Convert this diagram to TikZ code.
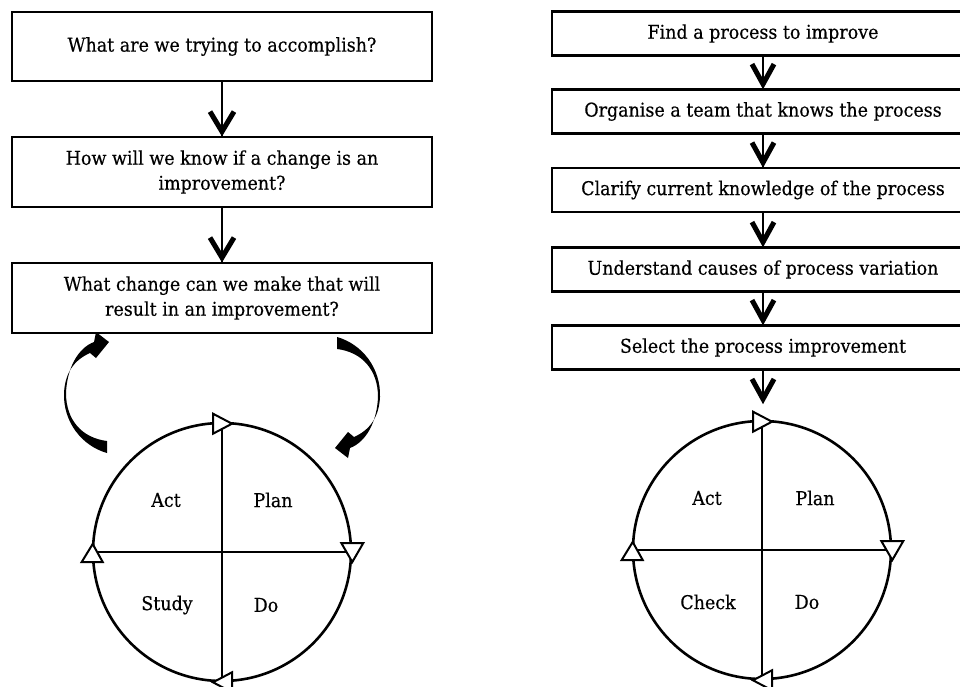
\documentclass[tikz,border=0pt]{standalone}
\usepackage{fontspec}
\setmainfont{DejaVu Serif}[FakeStretch=0.92,FakeBold=0.4]
\usetikzlibrary{arrows.meta,shapes.geometric}
\begin{document}
\begin{tikzpicture}[x=1pt,y=-1pt,
  txt/.style={font=\fontsize{19}{25}\selectfont, inner sep=0pt},
  lbox/.style={draw, line width=2.8pt, minimum width=420pt, minimum height=69pt, align=center, inner sep=0pt, font=\fontsize{19}{25}\selectfont},
  rbox/.style={draw, line width=2.8pt, minimum width=422pt, minimum height=44pt, align=center, inner sep=0pt, font=\fontsize{19}{25}\selectfont},
  conn/.style={line width=2.2pt},
  chev/.style={line width=5pt, line join=miter, line cap=butt},
  wheel/.style={draw, circle, line width=2.6pt, minimum size=258pt, inner sep=0pt},
  cross/.style={line width=2pt},
  tri/.style={draw, fill=white, line width=2pt, line join=miter},
  curvarrow/.style={fill=black}
]
\useasboundingbox (0,0) rectangle (960,687);
\clip (0,0) rectangle (960,687);
\fill[white] (0,0) rectangle (960,687);

% ---------- left column ----------
\node[lbox] (L1) at (222,46.5) {What are we trying to accomplish?};
\node[lbox, minimum height=70pt] (L2) at (222,172) {How will we know if a change is an\\improvement?};
\node[lbox, minimum height=70pt] (L3) at (222,298) {What change can we make that will\\result in an improvement?};
\draw[conn] (L1.south) -- (L2.north);
\draw[chev] (L2.north) ++(-12,-24) -- ++(12,20) -- ++(12,-20);
\draw[conn] (L2.south) -- (L3.north);
\draw[chev] (L3.north) ++(-12,-24) -- ++(12,20) -- ++(12,-20);

% curved arrows
\fill[curvarrow] (107,453) .. controls (82,446) and (63,422) .. (64,393)
  .. controls (65,373) and (74,360) .. (90,353) -- (96,358) -- (109,342) -- (96,332) -- (94,342)
  .. controls (78,348) and (67,368) .. (66,393)
  .. controls (66,420) and (82,438) .. (107,441) -- cycle;
\begin{scope}[rotate around={180:(222,395)}]
\fill[curvarrow] (107,453) .. controls (82,446) and (63,422) .. (64,393)
  .. controls (65,373) and (74,360) .. (90,353) -- (96,358) -- (109,342) -- (96,332) -- (94,342)
  .. controls (78,348) and (67,368) .. (66,393)
  .. controls (66,420) and (82,438) .. (107,441) -- cycle;
\end{scope}

% left wheel
\node[wheel] (C1) at (222,552) {};
\draw[cross] (C1.north) -- (C1.south);
\draw[cross] (C1.west) -- (C1.east);
\draw[tri] (C1.north) ++(-9,-8) -- ++(0,20) -- ++(19,-10) -- cycle;
\draw[tri] (C1.east) ++(-11,-9) -- ++(22,0) -- ++(-11,19) -- cycle;
\draw[tri] (C1.south) ++(10,-10) -- ++(0,20) -- ++(-19,-10) -- cycle;
\draw[tri] (C1.west) ++(-10,10) -- ++(21,0) -- ++(-10,-18) -- cycle;
\node[txt] (A1) at (166,500) {Act};
\node[txt] (P1) at (273,500) {Plan};
\node[txt] (S1) at (167,605) {Study};
\node[txt] (D1) at (266,605) {Do};

% ---------- right column ----------
\node[rbox] (R1) at (763,33.5) {Find a process to improve};
\node[rbox] (R2) at (763,111.5) {Organise a team that knows the process};
\node[rbox] (R3) at (763,190) {Clarify current knowledge of the process};
\node[rbox] (R4) at (763,269.5) {Understand causes of process variation};
\node[rbox] (R5) at (763,347.5) {Select the process improvement};
\coordinate (R6) at (763,403);
\draw[conn] (R1.south) -- (R2.north);
\draw[chev] (R2.north) ++(-11,-24) -- ++(11,20) -- ++(11,-20);
\draw[conn] (R2.south) -- (R3.north);
\draw[chev] (R3.north) ++(-11,-24) -- ++(11,20) -- ++(11,-20);
\draw[conn] (R3.south) -- (R4.north);
\draw[chev] (R4.north) ++(-11,-24) -- ++(11,20) -- ++(11,-20);
\draw[conn] (R4.south) -- (R5.north);
\draw[chev] (R5.north) ++(-11,-24) -- ++(11,20) -- ++(11,-20);
\draw[conn] (R5.south) -- (R6);
\draw[chev] (R6) ++(-11,-24) -- ++(11,20) -- ++(11,-20);

% right wheel
\node[wheel] (C2) at (762,550) {};
\draw[cross] (C2.north) -- (C2.south);
\draw[cross] (C2.west) -- (C2.east);
\draw[tri] (C2.north) ++(-9,-8) -- ++(0,20) -- ++(19,-10) -- cycle;
\draw[tri] (C2.east) ++(-11,-9) -- ++(22,0) -- ++(-11,19) -- cycle;
\draw[tri] (C2.south) ++(10,-10) -- ++(0,20) -- ++(-19,-10) -- cycle;
\draw[tri] (C2.west) ++(-10,10) -- ++(21,0) -- ++(-10,-18) -- cycle;
\node[txt] (A2) at (707,498) {Act};
\node[txt] (P2) at (815,498) {Plan};
\node[txt] (K2) at (708,602) {Check};
\node[txt] (D2) at (807,602) {Do};
\end{tikzpicture}
\end{document}
